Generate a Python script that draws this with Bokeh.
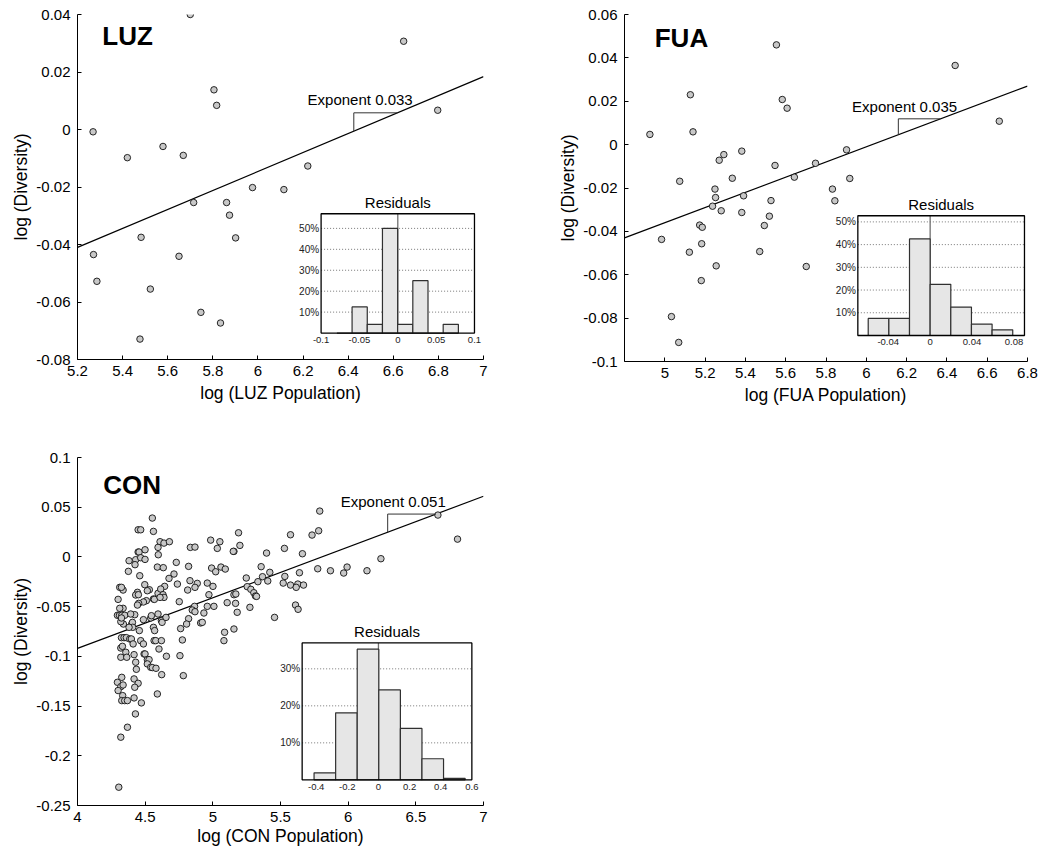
from bokeh.plotting import figure
from bokeh.layouts import column, row
from bokeh.models import Range1d, FixedTicker
from bokeh.embed import file_html
from bokeh.resources import INLINE
from bokeh.core.properties import value

FONT = "Liberation Sans"

# ---------------- data ----------------
luz_x = [5.70, 6.646, 5.805, 5.817, 6.797, 5.269, 5.579, 5.421, 5.669, 6.221, 5.976, 6.115,
         5.715, 5.861, 5.874, 5.901, 5.482, 5.271, 5.650, 5.286, 5.523, 5.747, 5.834, 5.477]
luz_y = [0.0400, 0.0307, 0.0138, 0.0084, 0.0067, -0.0008, -0.0059, -0.0098, -0.0090, -0.0127,
         -0.0202, -0.0209, -0.0254, -0.0254, -0.0298, -0.0377, -0.0375, -0.0435, -0.0441,
         -0.0528, -0.0555, -0.0636, -0.0673, -0.0729]

fua_x = [4.926, 4.984, 5.033, 5.069, 5.074, 5.127, 5.140, 5.122, 5.173, 5.186, 5.183, 5.181,
         5.255, 5.249, 5.252, 5.237, 5.280, 5.270, 5.293, 5.335, 5.382, 5.391, 5.382, 5.471,
         5.494, 5.519, 5.527, 5.547, 5.554, 5.583, 5.607, 5.643, 5.702, 5.748, 5.832, 5.844,
         5.902, 5.918, 6.441, 6.660]
fua_y = [0.0047, -0.0437, -0.0793, -0.0912, -0.0169, 0.0230, 0.0059, -0.0496, -0.0371, -0.0381,
         -0.0457, -0.0627, -0.0559, -0.0205, -0.0244, -0.0284, -0.0305, -0.0072, -0.0046,
         -0.0155, -0.0030, -0.0236, -0.0313, -0.0493, -0.0373, -0.0330, -0.0258, -0.0096,
         0.0460, 0.0208, 0.0168, -0.0150, -0.0562, -0.0086, -0.0205, -0.0259, -0.0024,
         -0.0156, 0.0365, 0.0108]

con_x = [5.790, 4.553, 4.448, 4.467, 4.561, 5.190, 5.782, 5.733, 5.574, 4.610,
         4.639, 4.679, 4.984, 5.052, 6.663, 6.808, 4.834, 4.868, 5.033, 5.200,
         5.529, 4.595, 4.448, 4.455, 4.499, 4.597, 5.156, 5.151, 5.397, 5.662,
         6.242, 4.430, 4.381, 4.467, 4.499, 4.425, 4.730, 4.590, 4.634, 4.821,
         4.991, 5.060, 5.092, 5.357, 5.775, 4.376, 5.021, 5.421, 5.869, 5.967,
         5.992, 6.139, 5.640, 5.367, 5.532, 4.460, 4.713, 4.676, 4.831, 4.885,
         4.959, 5.001, 5.247, 5.333, 5.406, 5.520, 5.574, 5.628, 5.670, 5.616,
         5.254, 4.738, 4.497, 4.644, 4.312, 4.337, 4.868, 4.531, 4.443, 4.516,
         4.595, 4.615, 4.814, 5.281, 5.303, 5.315, 5.323, 5.156, 4.971, 4.430,
         4.450, 4.561, 4.632, 4.752, 4.300, 4.509, 4.487, 4.452, 4.443, 4.568,
         4.639, 4.610, 4.865, 4.848, 4.934, 4.959, 5.008, 5.106, 5.168, 5.170,
         5.180, 5.274, 4.337, 4.312, 5.611, 5.630, 4.295, 4.310, 4.327, 4.349,
         4.423, 4.393, 4.541, 4.546, 4.595, 4.620, 4.625, 4.654, 4.821, 4.868,
         4.910, 4.922, 4.806, 4.487, 4.401, 4.406, 4.339, 4.320, 5.456, 4.408,
         4.381, 4.457, 4.561, 4.570, 4.762, 5.087, 5.156, 5.082, 4.775, 4.325,
         4.344, 4.361, 4.386, 4.398, 4.467, 4.566, 4.578, 4.620, 4.487, 4.411,
         4.320, 4.332, 4.357, 4.602, 4.418, 4.492, 4.499, 4.320, 4.364, 4.516,
         4.529, 4.657, 4.757, 4.430, 4.516, 4.435, 4.541, 4.553, 4.580, 4.622,
         4.782, 4.418, 4.327, 4.295, 4.448, 4.320, 4.337, 4.423, 4.300, 4.334,
         4.590, 4.418, 4.327, 4.349, 4.369, 4.472, 4.428, 4.369, 4.320, 4.305,
         4.325, 4.325]
con_y = [0.0461, 0.0391, 0.0273, 0.0273, 0.0257, 0.0243, 0.0263, 0.0220, 0.0223, 0.0153,
         0.0139, 0.0153, 0.0169, 0.0153, 0.0421, 0.0179, 0.0096, 0.0099, 0.0086, 0.0116,
         0.0086, 0.0096, 0.0049, 0.0049, 0.0072, 0.0022, 0.0056, 0.0056, 0.0039, 0.0032,
         -0.0018, -0.0028, -0.0038, -0.0008, -0.0025, -0.0078, -0.0055, -0.0102, -0.0108, -0.0095,
         -0.0112, -0.0102, -0.0122, -0.0098, -0.0119, -0.0145, -0.0149, -0.0155, -0.0139, -0.0162,
         -0.0102, -0.0139, -0.0159, -0.0199, -0.0196, -0.0189, -0.0172, -0.0216, -0.0239, -0.0266,
         -0.0263, -0.0296, -0.0212, -0.0249, -0.0242, -0.0263, -0.0283, -0.0273, -0.0283, -0.0306,
         -0.0299, -0.0273, -0.0279, -0.0296, -0.0306, -0.0333, -0.0306, -0.0330, -0.0356, -0.0340,
         -0.0366, -0.0323, -0.0333, -0.0326, -0.0360, -0.0393, -0.0397, -0.0380, -0.0380, -0.0383,
         -0.0380, -0.0423, -0.0380, -0.0450, -0.0427, -0.0440, -0.0453, -0.0467, -0.0484, -0.0427,
         -0.0407, -0.0407, -0.0497, -0.0534, -0.0564, -0.0497, -0.0497, -0.0460, -0.0467, -0.0373,
         -0.0557, -0.0507, -0.0517, -0.0517, -0.0484, -0.0527, -0.0587, -0.0587, -0.0587, -0.0587,
         -0.0581, -0.0574, -0.0614, -0.0591, -0.0574, -0.0641, -0.0658, -0.0608, -0.0621, -0.0551,
         -0.0664, -0.0658, -0.0675, -0.0631, -0.0675, -0.0658, -0.0675, -0.0651, -0.0608, -0.0708,
         -0.0708, -0.0741, -0.0708, -0.0741, -0.0721, -0.0758, -0.0725, -0.0842, -0.0835, -0.0812,
         -0.0812, -0.0812, -0.0825, -0.0825, -0.0842, -0.0842, -0.0842, -0.0842, -0.0875, -0.0875,
         -0.0916, -0.0899, -0.0959, -0.0926, -0.0983, -0.0976, -0.0976, -0.1009, -0.1009, -0.1033,
         -0.1033, -0.0999, -0.0993, -0.1059, -0.1076, -0.1130, -0.1110, -0.1113, -0.1120, -0.1184,
         -0.1194, -0.1227, -0.1211, -0.1261, -0.1271, -0.1305, -0.1288, -0.1311, -0.1344, -0.1395,
         -0.1378, -0.1418, -0.1445, -0.1445, -0.1445, -0.1468, -0.1579, -0.1713, -0.1813, -0.2316,
         -0.0306, -0.0614]

# fitted lines: y = intercept + slope * x
luz_fit = (-0.2126, 0.033)
fua_fit = (-0.211, 0.035)
con_fit = (-0.296, 0.051)
exponent_labels = ["Exponent 0.033", "Exponent 0.035", "Exponent 0.051"]
panel_names = ["LUZ", "FUA", "CON"]

# residual histograms (bin edges, percent per bin)
luz_hist_edges = [-0.0794, -0.0596, -0.0398, -0.0200, -0.0002, 0.0196, 0.0394, 0.0592, 0.0790]
luz_hist_pct = [0, 12.5, 4.17, 50.0, 4.17, 25.0, 0, 4.17]
fua_hist_edges = [-0.0591, -0.0394, -0.0197, 0.0, 0.0197, 0.0394, 0.0591, 0.0788]
fua_hist_pct = [7.5, 7.5, 42.5, 22.5, 12.5, 5.0, 2.5]
con_hist_edges = [-0.4135, -0.2749, -0.1363, 0.0023, 0.1409, 0.2795, 0.4181, 0.5567]
con_hist_pct = [1.9, 18.1, 35.3, 24.3, 13.9, 5.7, 0.4]

# tick values / labels
luz_xticks = [5.2, 5.4, 5.6, 5.8, 6, 6.2, 6.4, 6.6, 6.8, 7]
luz_xlabels = ["5.2", "5.4", "5.6", "5.8", "6", "6.2", "6.4", "6.6", "6.8", "7"]
luz_yticks = [-0.08, -0.06, -0.04, -0.02, 0, 0.02, 0.04]
luz_ylabels = ["-0.08", "-0.06", "-0.04", "-0.02", "0", "0.02", "0.04"]
fua_xticks = [5, 5.2, 5.4, 5.6, 5.8, 6, 6.2, 6.4, 6.6, 6.8]
fua_xlabels = ["5", "5.2", "5.4", "5.6", "5.8", "6", "6.2", "6.4", "6.6", "6.8"]
fua_yticks = [-0.1, -0.08, -0.06, -0.04, -0.02, 0, 0.02, 0.04, 0.06]
fua_ylabels = ["-0.1", "-0.08", "-0.06", "-0.04", "-0.02", "0", "0.02", "0.04", "0.06"]
con_xticks = [4, 4.5, 5, 5.5, 6, 6.5, 7]
con_xlabels = ["4", "4.5", "5", "5.5", "6", "6.5", "7"]
con_yticks = [-0.25, -0.2, -0.15, -0.1, -0.05, 0, 0.05, 0.1]
con_ylabels = ["-0.25", "-0.2", "-0.15", "-0.1", "-0.05", "0", "0.05", "0.1"]

luz_hist_xticks = [-0.1, -0.05, 0, 0.05, 0.1]
luz_hist_xlabels = ["-0.1", "-0.05", "0", "0.05", "0.1"]
luz_hist_yticks = [10, 20, 30, 40, 50]
fua_hist_xticks = [-0.04, 0, 0.04, 0.08]
fua_hist_xlabels = ["-0.04", "0", "0.04", "0.08"]
fua_hist_yticks = [10, 20, 30, 40, 50]
con_hist_xticks = [-0.4, -0.2, 0, 0.2, 0.4, 0.6]
con_hist_xlabels = ["-0.4", "-0.2", "0", "0.2", "0.4", "0.6"]
con_hist_yticks = [10, 20, 30]


def main_fig(xr, yr, xt, xl, yt, yl, xlabel, fw, fh, bl, br, bt, bb, xlab_standoff):
    p = figure(x_range=Range1d(*xr), y_range=Range1d(*yr), frame_width=fw, frame_height=fh,
               min_border_left=bl, min_border_right=br, min_border_top=bt, min_border_bottom=bb,
               output_backend="svg", toolbar_location=None, tools="")
    p.outline_line_color = None
    p.grid.visible = False
    p.xaxis.ticker = FixedTicker(ticks=xt)
    p.xaxis.major_label_overrides = dict(zip(xt, xl))
    p.yaxis.ticker = FixedTicker(ticks=yt)
    p.yaxis.major_label_overrides = dict(zip(yt, yl))
    p.xaxis.axis_label = xlabel
    p.yaxis.axis_label = "log (Diversity)"
    for ax in (p.xaxis[0], p.yaxis[0]):
        ax.major_tick_in = 4
        ax.major_tick_out = 0
        ax.minor_tick_line_color = None
        ax.axis_line_color = "black"
        ax.major_tick_line_color = "black"
        ax.major_label_text_font = FONT
        ax.major_label_text_font_size = "15px"
        ax.major_label_text_color = "black"
        ax.axis_label_text_font = FONT
        ax.axis_label_text_font_size = "17.5px"
        ax.axis_label_text_font_style = "normal"
        ax.axis_label_text_color = "black"
    p.xaxis.major_label_standoff = 6
    p.xaxis.axis_label_standoff = xlab_standoff
    p.yaxis.major_label_standoff = 7
    p.yaxis.axis_label_standoff = 2
    return p


def decorate(p, xs, ys, fit, name, name_pos, expo, expo_pos, br_x0, br_y1):
    a, b = fit
    x0, x1 = p.x_range.start, p.x_range.end
    p.line([x0, x1], [a + b * x0, a + b * x1], line_color="black", line_width=1.2)
    p.scatter(xs, ys, marker="circle", size=6.5, fill_color="#c8c8c8",
              line_color="#111111", line_width=0.9)
    # slope bracket
    bx1 = (br_y1 - a) / b
    p.line([br_x0, br_x0, bx1], [a + b * br_x0, br_y1, br_y1], line_color="#333333", line_width=1)
    p.text(x=[expo_pos[0]], y=[expo_pos[1]], text=[expo], text_font=value(FONT),
           text_font_size=value("15px"), text_align="center", text_baseline="middle",
           text_color="black")
    p.text(x=[name_pos[0]], y=[name_pos[1]], text=[name], text_font=value(FONT),
           text_font_size=value("26px"), text_font_style="bold", text_align="left",
           text_baseline="middle", text_color="black")


def inset(p, src_x, src_y, tgt_x, tgt_y, edges, pct, xt, xl, yt):
    sub = p.subplot(x_source=Range1d(*src_x), y_source=Range1d(*src_y),
                    x_target=Range1d(*tgt_x), y_target=Range1d(*tgt_y))
    l, r = src_x
    top = src_y[1]
    sub.quad(left=[l], right=[r], bottom=[0], top=[top], fill_color="white", line_color=None)
    sub.segment(x0=[l] * len(yt), x1=[r] * len(yt), y0=yt, y1=yt, line_color="#777777",
                line_dash="1 2", line_width=1)
    sub.segment(x0=[0], x1=[0], y0=[0], y1=[top], line_color="#707070", line_width=1.3)
    sub.quad(left=edges[:-1], right=edges[1:], bottom=[0] * len(pct), top=pct,
             fill_color="#e6e6e6", line_color="#303030", line_width=1.2)
    sub.quad(left=[l], right=[r], bottom=[0], top=[top], fill_color=None,
             line_color="black", line_width=1.3)
    sub.text(x=xt, y=[0] * len(xt), text=xl, text_font=value(FONT),
             text_font_size=value("9.5px"), text_align="center", text_baseline="top",
             y_offset=4, text_color="#222222")
    sub.text(x=[l] * len(yt), y=yt, text=["%d%%" % v for v in yt], text_font=value(FONT),
             text_font_size=value("10px"), text_align="right", text_baseline="middle",
             x_offset=-2, text_color="#222222")
    sub.text(x=[(l + r) / 2], y=[top], text=["Residuals"], text_font=value(FONT),
             text_font_size=value("15px"), text_align="center", text_baseline="bottom",
             y_offset=-3, text_color="black")


# LUZ
p1 = main_fig((5.2, 7), (-0.08, 0.04), luz_xticks, luz_xlabels, luz_yticks, luz_ylabels,
              "log (LUZ Population)", 406, 345, 77, 25, 14, 47, 4)
decorate(p1, luz_x, luz_y, luz_fit, panel_names[0], (5.31, 0.0325), exponent_labels[0],
         (6.453, 0.0105), 6.425, 0.0058)
inset(p1, (-0.1, 0.1), (0, 57), (6.28, 6.96), (-0.0708, -0.0293),
      luz_hist_edges, luz_hist_pct, luz_hist_xticks, luz_hist_xlabels, luz_hist_yticks)

# FUA
p2 = main_fig((4.8, 6.8), (-0.1, 0.06), fua_xticks, fua_xlabels, fua_yticks, fua_ylabels,
              "log (FUA Population)", 403, 347, 116, 19, 12, 47, 4)
decorate(p2, fua_x, fua_y, fua_fit, panel_names[1], (4.95, 0.049), exponent_labels[1],
         (6.19, 0.0177), 6.159, 0.0119)
inset(p2, (-0.069, 0.090), (0, 52.7), (5.958, 6.785), (-0.088, -0.0328),
      fua_hist_edges, fua_hist_pct, fua_hist_xticks, fua_hist_xlabels, fua_hist_yticks)

# CON
p3 = main_fig((4, 7), (-0.25, 0.1), con_xticks, con_xlabels, con_yticks, con_ylabels,
              "log (CON Population)", 406, 348, 77, 25, 51, 45, 1)
decorate(p3, con_x, con_y, con_fit, panel_names[2], (4.19, 0.0726), exponent_labels[2],
         (6.333, 0.0558), 6.292, 0.0431)
inset(p3, (-0.49, 0.60), (0, 37), (5.66, 6.914), (-0.2242, -0.0865),
      con_hist_edges, con_hist_pct, con_hist_xticks, con_hist_xlabels, con_hist_yticks)

layout = column(row(p1, p2), row(p3))
open("out.html", "w").write(file_html(layout, INLINE))
